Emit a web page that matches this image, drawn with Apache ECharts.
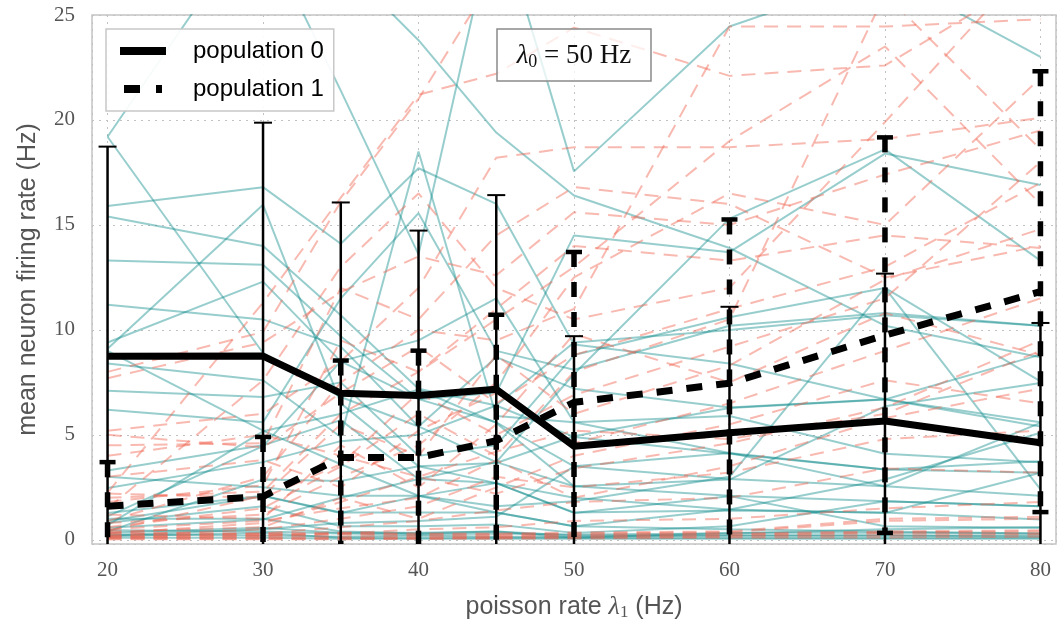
<!DOCTYPE html>
<html>
<head>
<meta charset="utf-8">
<script src="https://cdn.jsdelivr.net/npm/echarts@6/dist/echarts.min.js"></script>
<style>
  html, body { margin: 0; padding: 0; background: #ffffff; }
  #chart { width: 1062px; height: 626px; }
</style>
</head>
<body>
<div id="chart"></div>
<script>
// Poisson input rates of population 1 (Hz)
const rates = [20, 30, 35, 40, 45, 50, 60, 70, 80];

// Population means and standard deviations (Hz)
const pop0Mean = [8.74, 8.75, 6.98, 6.87, 7.17, 4.46, 5.1, 5.66, 4.62];
const pop0Std  = [9.99, 11.12, 9.09, 7.86, 9.25, 5.24, 6.0, 7.02, 5.71];
const pop1Mean = [1.6, 2.06, 3.92, 3.92, 4.72, 6.55, 7.46, 9.75, 11.82];
const pop1Std  = [2.1, 2.84, 4.62, 5.09, 6.0, 7.16, 7.8, 9.42, 10.5];

// Individual neuron firing rates, population 0
const pop0Neurons = [
  [19.2, 30.0, 27.5, 23.8, 19.4, 16.4, 13.9, 10.2, 8.7],
  [19.2, 8.9, 6.8, 5.4, 3.7, 2.55, 2.1, 1.84, 1.6],
  [15.9, 16.8, 14.1, 17.7, 16.0, 9.3, 8.4, 6.7, 5.6],
  [15.4, 14.0, 10.7, 7.2, 6.4, 4.9, 4.1, 3.35, 3.2],
  [13.3, 13.1, 9.7, 6.7, 5.6, 3.5, 2.9, 2.55, 2.1],
  [9.1, 15.96, 6.5, 3.5, 2.7, 1.3, 1.4, 1.3, 0.97],
  [11.2, 10.5, 9.2, 5.4, 8.7, 7.2, 6.3, 6.7, 5.4],
  [27.0, 29.0, 21.4, 13.6, 30.0, 17.55, 24.45, 27.0, 23.0],
  [8.4, 7.6, 4.9, 18.5, 5.9, 5.6, 5.9, 4.1, 3.7],
  [6.2, 5.6, 11.5, 15.56, 9.0, 8.1, 10.2, 10.8, 10.2],
  [9.4, 12.3, 8.5, 6.7, 7.0, 14.5, 13.7, 18.4, 16.9],
  [3.3, 4.5, 5.7, 2.9, 3.7, 7.9, 15.3, 18.6, 13.3],
  [7.1, 6.8, 7.5, 4.0, 4.5, 8.8, 10.6, 12.0, 7.55],
  [3.0, 2.5, 2.1, 2.1, 1.6, 1.84, 3.0, 12.0, 2.4],
  [2.47, 3.7, 4.7, 5.0, 6.4, 9.4, 10.0, 10.7, 10.2],
  [9.0, 5.2, 3.6, 2.1, 1.3, 0.65, 0.5, 0.4, 0.3],
  [1.28, 2.1, 1.3, 1.3, 1.3, 0.65, 1.44, 2.87, 5.1],
  [0.81, 1.6, 0.65, 0.65, 0.73, 0.33, 0.65, 1.84, 1.6],
  [0.57, 0.97, 2.0, 2.9, 2.7, 1.28, 2.08, 0.65, 0.57],
  [0.33, 0.57, 0.33, 0.33, 0.4, 0.1, 0.33, 0.33, 0.3],
  [0.17, 0.33, 0.1, 0.1, 0.1, 0.1, 0.1, 0.1, 0.1],
  [0.1, 0.1, 0.05, 0.05, 0.05, 0.05, 0.05, 0.05, 0.05],
  [1.12, 4.46, 8.5, 9.5, 11.5, 5.6, 4.14, 3.35, 3.74],
  [0.4, 2.87, 2.8, 3.5, 3.66, 4.93, 6.28, 6.68, 8.82],
  [0.7, 5.17, 6.0, 7.16, 5.57, 2.55, 2.87, 6.36, 7.47],
  [0.2, 0.5, 0.8, 0.9, 1.1, 3.5, 4.14, 2.55, 5.57],
  [1.0, 1.0, 0.4, 0.3, 0.4, 0.2, 0.2, 0.2, 0.2],
  [0.9, 2.08, 1.28, 2.08, 2.7, 2.0, 1.44, 1.28, 3.19],
  [0.25, 0.2, 0.15, 0.2, 0.15, 0.15, 0.2, 0.2, 0.15],
  [0.45, 0.4, 0.3, 0.25, 0.3, 0.25, 0.3, 0.5, 0.6]
];

// Individual neuron firing rates, population 1
const pop1Neurons = [
  [8.0, 9.9, 16.1, 21.0, 27.0, 30.0, 30.0, 30.0, 30.0],
  [5.2, 6.0, 8.5, 12.0, 18.2, 18.7, 18.7, 19.1, 20.1],
  [4.5, 4.6, 12.0, 10.5, 14.5, 16.8, 16.0, 12.5, 14.0],
  [2.24, 11.3, 16.3, 21.2, 22.2, 24.4, 22.1, 22.6, 27.0],
  [2.0, 2.3, 6.0, 8.0, 11.0, 14.0, 13.3, 14.5, 13.9],
  [1.5, 7.6, 13.0, 16.5, 12.0, 10.5, 12.0, 19.9, 28.0],
  [0.9, 3.0, 7.5, 10.0, 9.5, 11.0, 24.45, 24.45, 24.8],
  [0.6, 1.5, 3.5, 6.0, 4.0, 8.0, 10.5, 26.0, 18.6],
  [0.41, 2.1, 5.5, 4.0, 8.8, 6.0, 8.3, 12.4, 14.8],
  [3.0, 3.8, 2.5, 5.2, 7.0, 4.6, 6.5, 9.0, 11.5],
  [1.2, 1.0, 4.5, 2.5, 5.5, 9.8, 7.5, 10.8, 8.8],
  [0.3, 0.8, 1.8, 3.0, 2.2, 3.4, 4.6, 6.3, 9.5],
  [0.2, 0.5, 1.0, 1.6, 3.0, 2.5, 3.2, 4.8, 5.2],
  [0.15, 0.3, 0.6, 0.9, 1.4, 1.8, 2.0, 3.4, 3.2],
  [0.1, 0.2, 0.3, 0.5, 0.6, 0.9, 1.0, 1.5, 1.8],
  [5.0, 4.4, 7.0, 9.2, 6.5, 8.8, 11.0, 13.0, 17.0],
  [7.7, 9.4, 11.8, 13.5, 12.6, 15.6, 15.0, 17.4, 19.5],
  [0.35, 0.3, 0.35, 0.3, 0.3, 0.35, 0.4, 1.0, 1.1],
  [0.3, 0.25, 0.3, 0.25, 0.25, 0.3, 0.35, 0.9, 1.0],
  [0.2, 0.2, 0.25, 0.2, 0.2, 0.25, 0.3, 0.4, 0.45],
  [0.15, 0.15, 0.15, 0.15, 0.15, 0.2, 0.25, 0.35, 0.4],
  [0.1, 0.1, 0.1, 0.1, 0.12, 0.15, 0.2, 0.3, 0.3],
  [0.05, 0.05, 0.05, 0.06, 0.08, 0.1, 0.15, 0.2, 0.25],
  [0.02, 0.03, 0.03, 0.04, 0.05, 0.06, 0.1, 0.1, 0.15],
  [0.4, 0.6, 2.0, 1.0, 2.5, 4.0, 5.5, 7.6, 6.5],
  [2.2, 2.0, 3.6, 7.0, 5.0, 6.9, 9.2, 11.5, 18.0],
  [0.8, 1.2, 3.0, 4.5, 7.5, 12.5, 16.5, 15.0, 22.0],
  [1.8, 2.6, 9.5, 8.0, 10.5, 13.0, 19.0, 23.5, 16.0],
  [4.0, 5.0, 4.0, 3.0, 4.2, 5.2, 4.8, 6.0, 9.0],
  [0.5, 0.9, 1.5, 2.0, 3.8, 2.0, 3.5, 5.8, 7.2]
];

const X_MIN = 19, X_MAX = 81;
const Y_MIN = -0.2, Y_MAX = 25;

const SERIF = "'Liberation Serif', 'DejaVu Serif', serif";
const SANS = "'Liberation Sans', Arial, sans-serif";

// Legend glyphs: a solid bar, and a dash followed by a short dash
const ICON_SOLID = 'path://M0,0H46V8H0Z';
const ICON_DASHED = 'path://M4,0H20V8H4ZM36,0H42V8H36ZM0,4L46,4';

const toPoints = vals => rates.map((r, i) => [r, vals[i]]);

function neuronSeries(vals, color, dash, z) {
  return {
    type: 'line',
    data: toPoints(vals),
    showSymbol: false,
    symbol: 'none',
    silent: true,
    animation: false,
    z: z,
    lineStyle: { color: color, width: 2, type: dash },
    emphasis: { disabled: true }
  };
}

function errorBarSeries(mean, std, st) {
  return {
    type: 'custom',
    silent: true,
    animation: false,
    z: st.z,
    data: rates.map((r, i) => [r, mean[i] - std[i], mean[i] + std[i]]),
    encode: { x: 0, y: [1, 2] },
    renderItem: function (params, api) {
      const x = api.value(0), lo = api.value(1), hi = api.value(2);
      const pTop = api.coord([x, Math.min(hi, Y_MAX)]);
      const pBot = api.coord([x, Math.max(lo, Y_MIN)]);
      const half = st.capWidth / 2;
      const children = [{
        type: 'line',
        shape: { x1: pTop[0], y1: pTop[1], x2: pBot[0], y2: pBot[1] },
        style: { stroke: '#000', lineWidth: st.width, lineDash: st.dash, fill: null }
      }];
      [lo, hi].forEach(v => {
        if (v >= Y_MIN && v <= Y_MAX) {
          const p = api.coord([x, v]);
          children.push({
            type: 'line',
            shape: { x1: p[0] - half, y1: p[1], x2: p[0] + half, y2: p[1] },
            style: { stroke: '#000', lineWidth: st.capThick, fill: null }
          });
        }
      });
      return { type: 'group', children: children };
    }
  };
}

const series = [];
pop0Neurons.forEach(v => series.push(neuronSeries(v, 'rgba(10,135,135,0.42)', 'solid', 1)));
pop1Neurons.forEach(v => series.push(neuronSeries(v, 'rgba(240,100,80,0.45)', [14, 9], 2)));
series.push(errorBarSeries(pop0Mean, pop0Std, { z: 3, width: 2.5, dash: null, capWidth: 18, capThick: 2 }));
series.push(errorBarSeries(pop1Mean, pop1Std, { z: 4, width: 5.5, dash: [15, 15], capWidth: 16, capThick: 4.5 }));
series.push({
  name: 'population 0',
  type: 'line',
  data: toPoints(pop0Mean),
  showSymbol: false,
  symbol: 'none',
  animation: false,
  z: 5,
  color: '#000',
  itemStyle: { color: '#000' },
  lineStyle: { color: '#000', width: 7, type: 'solid', join: 'round' }
});
series.push({
  name: 'population 1',
  type: 'line',
  data: toPoints(pop1Mean),
  showSymbol: false,
  symbol: 'none',
  animation: false,
  z: 6,
  color: '#000',
  itemStyle: { color: '#000' },
  lineStyle: { color: '#000', width: 7, type: [16, 14] }
});

const chart = echarts.init(document.getElementById('chart'), null, { renderer: 'canvas' });
chart.setOption({
  animation: false,
  backgroundColor: '#ffffff',
  grid: {
    left: 92, right: 6, top: 15, bottom: 82,
    outerBoundsMode: 'none',
    containLabel: false,
    show: true, borderColor: '#c4c4c4', borderWidth: 1.5, backgroundColor: 'transparent'
  },
  xAxis: {
    type: 'value',
    min: X_MIN, max: X_MAX, splitNumber: 6,
    axisLine: { show: false },
    axisTick: { show: false },
    axisLabel: {
      margin: 16, fontFamily: SERIF, fontSize: 21, color: '#555',
      showMinLabel: false, showMaxLabel: false,
      formatter: v => (v % 10 === 0 ? String(v) : '')
    },
    splitLine: { show: true, lineStyle: { color: '#c2c2c2', width: 1, type: [2, 5] } },
    name: '{a|poisson rate }{l|λ}{s|1}{a| (Hz)}',
    nameLocation: 'middle',
    nameGap: 50,
    nameTextStyle: {
      rich: {
        a: { fontFamily: SANS, fontSize: 25, color: '#555' },
        l: { fontFamily: SERIF, fontStyle: 'italic', fontSize: 26, color: '#555' },
        s: { fontFamily: SERIF, fontSize: 17, color: '#555', verticalAlign: 'bottom', padding: [10, 0, 0, 0] }
      }
    }
  },
  yAxis: {
    type: 'value',
    min: Y_MIN, max: Y_MAX, splitNumber: 5,
    axisLine: { show: false },
    axisTick: { show: false },
    axisLabel: {
      margin: 17, fontFamily: SERIF, fontSize: 21, color: '#555',
      showMinLabel: false,
      formatter: v => (v >= 0 && v % 5 === 0 ? String(v) : '')
    },
    splitLine: { show: true, lineStyle: { color: '#c2c2c2', width: 1, type: [2, 5] } },
    name: 'mean neuron firing rate (Hz)',
    nameLocation: 'middle',
    nameGap: 51,
    nameTextStyle: { fontFamily: SANS, fontSize: 25, color: '#555' }
  },
  legend: {
    data: [
      { name: 'population 0', icon: ICON_SOLID, itemStyle: { color: '#000' } },
      { name: 'population 1', icon: ICON_DASHED, itemStyle: { color: '#000' } }
    ],
    orient: 'vertical',
    left: 106, top: 29,
    itemWidth: 46, itemHeight: 8, itemGap: 12,
    padding: [9, 10, 9, 14],
    borderColor: '#c8c8c8', borderWidth: 1.5, borderRadius: 0,
    backgroundColor: 'rgba(255,255,255,0.92)',
    selectedMode: false,
    textStyle: { fontFamily: SANS, fontSize: 24, color: '#000', padding: [0, 0, 0, 22], lineHeight: 26 }
  },
  graphic: [
    {
      type: 'rect', z: 100,
      shape: { x: 497, y: 29, width: 154, height: 52 },
      style: { fill: 'rgba(255,255,255,0.75)', stroke: '#8a8a8a', lineWidth: 1.5 }
    },
    {
      type: 'text', z: 101,
      x: 574, y: 56,
      style: {
        text: '{l|λ}{s|0}{t| = 50 Hz}',
        align: 'center', verticalAlign: 'middle',
        rich: {
          l: { fontFamily: SERIF, fontStyle: 'italic', fontSize: 27, fill: '#111' },
          s: { fontFamily: SERIF, fontSize: 18, fill: '#111', padding: [12, 0, 0, 0] },
          t: { fontFamily: SERIF, fontSize: 27, fill: '#111' }
        }
      }
    }
  ],
  series: series
});
</script>
</body>
</html>
